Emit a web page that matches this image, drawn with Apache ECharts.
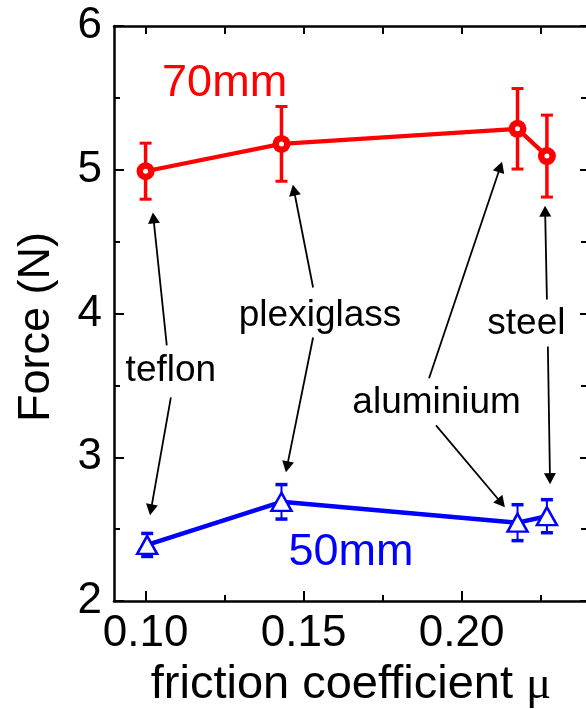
<!DOCTYPE html>
<html><head><meta charset="utf-8">
<script src="https://cdn.jsdelivr.net/npm/echarts@6/dist/echarts.min.js"></script>
<style>html,body{margin:0;padding:0;background:#fff}#c{width:586px;height:709px}</style>
</head><body><div id="c"></div>
<script>
// ---- data ----
const friction70 = [0.100, 0.143, 0.2177, 0.227];
const force70 = [4.99, 5.18, 5.285, 5.095];
const err70 = [0.195, 0.26, 0.28, 0.285];
const friction50 = [0.1005, 0.143, 0.2177, 0.227];
const force50 = [2.39, 2.69, 2.545, 2.59];
const err50 = [0.08, 0.12, 0.125, 0.115];
const xMajorTicks = [0.10, 0.15, 0.20];
const xMinorTicks = [0.125, 0.175, 0.225];
const materials = ['teflon', 'plexiglass', 'aluminium', 'steel'];
const materialX = [0.108, 0.1552, 0.1921, 0.2205];
const materialY = [3.60, 3.985, 3.382, 3.927];
const seriesNames = ['70mm', '50mm'];
const seriesNameX = [0.125, 0.165];
const seriesNameY = [5.599, 2.335];
// arrows: [x from, y from, x to (tip), y to (tip)]
const arrowsUp = [[0.1067, 3.778, 0.1023, 4.703], [0.1530, 4.181, 0.1466, 4.896], [0.1897, 3.549, 0.2128, 5.056], [0.2270, 4.097, 0.2264, 4.75]];
const arrowsDown = [[0.108, 3.417, 0.1014, 2.597], [0.1530, 3.833, 0.1444, 2.896], [0.1919, 3.222, 0.2137, 2.653], [0.2273, 3.771, 0.2280, 2.8125]];

const FONT = 'Liberation Sans, Arial, sans-serif';
const chart = echarts.init(document.getElementById('c'), null, {renderer: 'canvas'});

function zip(a, b) { return a.map((v, i) => [v, b[i]]); }
function zip3(a, b, c) { return a.map((v, i) => [v, b[i], c[i]]); }

function errRender(color, lw, capW, capLw) {
  return function (params, api) {
    const x = api.value(0), y = api.value(1), e = api.value(2);
    const t = api.coord([x, y + e]), b = api.coord([x, y - e]);
    return {type: 'group', children: [
      {type: 'line', shape: {x1: t[0], y1: t[1], x2: b[0], y2: b[1]}, style: {stroke: color, lineWidth: lw}},
      {type: 'line', shape: {x1: t[0] - capW / 2, y1: t[1], x2: t[0] + capW / 2, y2: t[1]}, style: {stroke: color, lineWidth: capLw}},
      {type: 'line', shape: {x1: b[0] - capW / 2, y1: b[1], x2: b[0] + capW / 2, y2: b[1]}, style: {stroke: color, lineWidth: capLw}}
    ]};
  };
}
function arrowRender(params, api) {
  const p1 = api.coord([api.value(0), api.value(1)]);
  const p2 = api.coord([api.value(2), api.value(3)]);
  const dx = p2[0] - p1[0], dy = p2[1] - p1[1];
  const L = Math.hypot(dx, dy), ux = dx / L, uy = dy / L;
  const hl = 11, hw = 6;
  const bx = p2[0] - ux * hl, by = p2[1] - uy * hl;
  return {type: 'group', children: [
    {type: 'line', shape: {x1: p1[0], y1: p1[1], x2: bx + ux * 2, y2: by + uy * 2}, style: {stroke: '#000', lineWidth: 1.8}},
    {type: 'polygon', shape: {points: [[p2[0], p2[1]], [bx - uy * hw, by + ux * hw], [bx + uy * hw, by - ux * hw]]}, style: {fill: '#000'}}
  ]};
}
function textRender(texts, colors, size) {
  return function (params, api) {
    const p = api.coord([api.value(0), api.value(1)]);
    return {type: 'text', x: p[0], y: p[1], style: {
      text: texts[params.dataIndex], fill: colors[params.dataIndex],
      fontSize: size, fontFamily: FONT, align: 'center', verticalAlign: 'middle'}};
  };
}

const axisLineStyle = {color: '#000', width: 2.5};
const tickStyle = {color: '#000', width: 2};

const option = {
  animation: false,
  backgroundColor: '#fff',
  grid: {left: 114, right: -2, top: 26, bottom: 108, containLabel: false, outerBoundsMode: 'none'},
  xAxis: [
    {type: 'value', position: 'bottom', min: 0.09, max: 0.24,
      axisLine: {show: true, onZero: false, lineStyle: axisLineStyle},
      axisTick: {show: true, inside: true, length: 10, customValues: xMajorTicks, lineStyle: tickStyle},
      axisLabel: {show: true, customValues: xMajorTicks, formatter: v => v.toFixed(2), fontSize: 44, color: '#000', fontFamily: FONT, margin: 11},
      splitLine: {show: false},
      name: 'friction coefficient {mu|μ}', nameLocation: 'middle', nameGap: 61,
      nameTextStyle: {fontSize: 47, color: '#000', fontFamily: FONT,
        rich: {mu: {fontSize: 47, fontFamily: 'Liberation Serif, serif', color: '#000'}}}},
    {type: 'value', position: 'bottom', min: 0.09, max: 0.24,
      axisLine: {show: false, onZero: false},
      axisTick: {show: true, inside: true, length: 6, customValues: xMinorTicks, lineStyle: tickStyle},
      axisLabel: {show: false}, splitLine: {show: false}},
    {type: 'value', position: 'top', min: 0.09, max: 0.24,
      axisLine: {show: true, onZero: false, lineStyle: axisLineStyle},
      axisTick: {show: true, inside: true, length: 8, customValues: xMajorTicks.concat(xMinorTicks), lineStyle: tickStyle},
      axisLabel: {show: false}, splitLine: {show: false}}
  ],
  yAxis: [
    {type: 'value', position: 'left', min: 2, max: 6, interval: 1,
      axisLine: {show: true, onZero: false, lineStyle: axisLineStyle},
      axisTick: {show: true, inside: true, length: 10, lineStyle: tickStyle},
      minorTick: {show: true, splitNumber: 2, length: 6, lineStyle: tickStyle},
      axisLabel: {fontSize: 44, color: '#000', fontFamily: FONT, margin: 12},
      splitLine: {show: false}, minorSplitLine: {show: false},
      name: 'Force (N)', nameLocation: 'middle', nameGap: 55,
      nameTextStyle: {fontSize: 45, color: '#000', fontFamily: FONT, padding: [0, 27, 0, 0]}},
    {type: 'value', position: 'right', min: 2, max: 6, interval: 1,
      axisLine: {show: true, onZero: false, lineStyle: axisLineStyle},
      axisTick: {show: true, inside: true, length: 8, lineStyle: tickStyle},
      minorTick: {show: true, splitNumber: 2, length: 7, lineStyle: tickStyle},
      axisLabel: {show: false}, splitLine: {show: false}, minorSplitLine: {show: false}}
  ],
  series: [
    {type: 'line', data: zip(friction70, force70), symbol: 'none', lineStyle: {color: '#ff0000', width: 4.2}, z: 2},
    {type: 'line', data: zip(friction50, force50), symbol: 'none', lineStyle: {color: '#0000ff', width: 4.5}, z: 2},
    {type: 'custom', renderItem: errRender('#ff0000', 3.5, 12, 3), data: zip3(friction70, force70, err70), encode: {x: 0, y: 1}, clip: false, z: 3},
    {type: 'custom', renderItem: errRender('#0000ff', 2, 12, 3.5), data: zip3(friction50, force50, err50), encode: {x: 0, y: 1}, clip: false, z: 3},
    {type: 'scatter', data: zip(friction70, force70), symbol: 'circle', symbolSize: 18,
      itemStyle: {color: '#ff0000', borderWidth: 0, opacity: 1}, z: 4},
    {type: 'scatter', data: zip(friction70, force70), symbol: 'circle', symbolSize: 5,
      itemStyle: {color: '#ffffff', borderWidth: 0, opacity: 1}, z: 5},
    {type: 'scatter', data: zip(friction50, force50), symbol: 'triangle', symbolSize: [20, 18],
      itemStyle: {color: '#fff', borderColor: '#0000ff', borderWidth: 2.5, opacity: 1}, z: 4},
    {type: 'custom', renderItem: arrowRender, data: arrowsUp.concat(arrowsDown), encode: {x: [0, 2], y: [1, 3]}, clip: false, z: 6},
    {type: 'custom', renderItem: textRender(materials, materials.map(() => '#000'), 37),
      data: zip(materialX, materialY), encode: {x: 0, y: 1}, clip: false, z: 6},
    {type: 'custom', renderItem: textRender(seriesNames, ['#ff0000', '#0000ff'], 45),
      data: zip(seriesNameX, seriesNameY), encode: {x: 0, y: 1}, clip: false, z: 6}
  ]
};
chart.setOption(option);
</script>
</body></html>
